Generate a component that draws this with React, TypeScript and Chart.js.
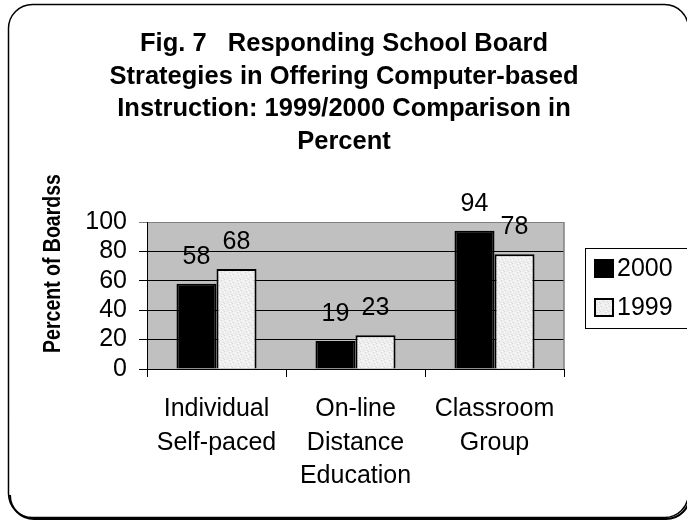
import React, { useEffect, useRef } from 'react';
import { Chart, registerables } from 'chart.js';

Chart.register(...registerables);

const categories = [
  ['Individual', 'Self-paced'],
  ['On-line', 'Distance', 'Education'],
  ['Classroom', 'Group'],
];
const seriesNames = ['2000', '1999'];
const values2000 = [58, 19, 94];
const values1999 = [68, 23, 78];
const yMin = 0;
const yMax = 100;
const yStep = 20;
const titleLines = [
  'Fig. 7   Responding School Board',
  'Strategies in Offering Computer-based',
  'Instruction: 1999/2000 Comparison in',
  'Percent',
];
const yAxisTitle = 'Percent of Boardss';

const FONT = "'Liberation Sans', Arial, Helvetica, sans-serif";

function makePattern(): CanvasPattern | string {
  const c = document.createElement('canvas');
  c.width = 8;
  c.height = 8;
  const g = c.getContext('2d');
  if (!g) return '#ececec';
  g.fillStyle = '#eeeeee';
  g.fillRect(0, 0, 8, 8);
  const dark = [[1, 2], [5, 0], [3, 5], [7, 6], [0, 7], [6, 3]];
  const light = [[2, 0], [4, 3], [0, 4], [6, 7], [3, 1], [7, 2]];
  g.fillStyle = '#d9d9d9';
  dark.forEach(([x, y]) => g.fillRect(x, y, 1, 1));
  g.fillStyle = '#fbfbfb';
  light.forEach(([x, y]) => g.fillRect(x, y, 1, 1));
  const p = g.createPattern(c, 'repeat');
  return p || '#ececec';
}

function roundRectPath(ctx: CanvasRenderingContext2D, x: number, y: number, w: number, h: number, r: number) {
  ctx.beginPath();
  ctx.moveTo(x + r, y);
  ctx.lineTo(x + w - r, y);
  ctx.arcTo(x + w, y, x + w, y + r, r);
  ctx.lineTo(x + w, y + h - r);
  ctx.arcTo(x + w, y + h, x + w - r, y + h, r);
  ctx.lineTo(x + r, y + h);
  ctx.arcTo(x, y + h, x, y + h - r, r);
  ctx.lineTo(x, y + r);
  ctx.arcTo(x, y, x + r, y, r);
  ctx.closePath();
}

export default function App() {
  const ref = useRef<HTMLCanvasElement | null>(null);

  useEffect(() => {
    const canvas = ref.current;
    if (!canvas) return;
    const pattern = makePattern();

    const decor = {
      id: 'decor',
      beforeDraw(chart: any) {
        const ctx = chart.ctx as CanvasRenderingContext2D;
        const a = chart.chartArea;
        ctx.save();
        ctx.fillStyle = '#ffffff';
        ctx.fillRect(0, 0, chart.width, chart.height);
        // outer rounded frame
        const fx = 8.5, fy = 4.5, fw = 680, fh = 513, fr = 24;
        ctx.strokeStyle = '#000';
        ctx.lineWidth = 1.5;
        roundRectPath(ctx, fx, fy, fw, fh, fr);
        ctx.stroke();
        // bottom shadow following the lower corners
        ctx.lineWidth = 2;
        ctx.beginPath();
        const sy = fy + fh + 1.5;
        ctx.moveTo(fx + 1.5, fy + fh - fr + 1.5);
        ctx.arcTo(fx + 1.5, sy, fx + fr + 1.5, sy, fr);
        ctx.lineTo(fx + fw - fr + 1.5, sy);
        ctx.arcTo(fx + fw + 1.5, sy, fx + fw + 1.5, sy - fr, fr);
        ctx.stroke();
        // plot background
        ctx.fillStyle = '#c0c0c0';
        ctx.fillRect(a.left, a.top, a.right - a.left, a.bottom - a.top);
        ctx.restore();
      },
      afterDraw(chart: any) {
        const ctx = chart.ctx as CanvasRenderingContext2D;
        const a = chart.chartArea;
        ctx.save();
        // right border of plot area
        ctx.strokeStyle = '#808080';
        ctx.lineWidth = 1.5;
        ctx.beginPath();
        ctx.moveTo(a.right, a.top);
        ctx.lineTo(a.right, a.bottom);
        ctx.stroke();

        // data labels
        ctx.fillStyle = '#000';
        ctx.font = `25px ${FONT}`;
        ctx.textAlign = 'center';
        ctx.textBaseline = 'middle';
        chart.data.datasets.forEach((ds: any, i: number) => {
          const meta = chart.getDatasetMeta(i);
          meta.data.forEach((bar: any, j: number) => {
            ctx.fillText(String(ds.data[j]), bar.x, bar.y - 27);
          });
        });

        // legend
        ctx.strokeStyle = '#000';
        ctx.lineWidth = 1;
        ctx.strokeRect(585.5, 248.5, 120, 80);
        const legendRows = [
          { name: seriesNames[0], fill: '#000', y: 259 },
          { name: seriesNames[1], fill: pattern, y: 298 },
        ];
        legendRows.forEach((r) => {
          ctx.fillStyle = r.fill as any;
          ctx.fillRect(594, r.y, 20, 19);
          ctx.lineWidth = 2;
          ctx.strokeStyle = '#000';
          ctx.strokeRect(595, r.y + 1, 18, 17);
          ctx.fillStyle = '#000';
          ctx.font = `25px ${FONT}`;
          ctx.textAlign = 'left';
          ctx.textBaseline = 'middle';
          ctx.fillText(r.name, 617, r.y + 10);
        });

        // title
        ctx.fillStyle = '#000';
        ctx.font = `bold 25.5px ${FONT}`;
        ctx.textAlign = 'center';
        ctx.textBaseline = 'alphabetic';
        titleLines.forEach((line, i) => {
          ctx.fillText(line, 344, 51 + i * 32.7);
        });

        // y axis title (glyphs slightly taller, as in the reference)
        ctx.save();
        ctx.translate(59.5, 263.5);
        ctx.rotate(-Math.PI / 2);
        ctx.scale(1, 1.18);
        ctx.font = `bold 19.5px ${FONT}`;
        ctx.textAlign = 'center';
        ctx.textBaseline = 'alphabetic';
        ctx.fillText(yAxisTitle, 0, 0);
        ctx.restore();

        ctx.restore();
      },
    };

    const chart = new Chart(canvas, {
      type: 'bar',
      data: {
        labels: categories as any,
        datasets: [
          {
            label: seriesNames[0],
            data: values2000,
            backgroundColor: '#000',
            borderColor: '#000',
            borderWidth: 2,
            categoryPercentage: 0.576,
            barPercentage: 1,
          },
          {
            label: seriesNames[1],
            data: values1999,
            backgroundColor: pattern as any,
            borderColor: '#000',
            borderWidth: 2,
            categoryPercentage: 0.576,
            barPercentage: 1,
          },
        ],
      },
      options: {
        animation: false,
        responsive: false,
        maintainAspectRatio: false,
        devicePixelRatio: 1,
        layout: { padding: { left: 0, top: 222, right: 123, bottom: 0 } },
        plugins: {
          legend: { display: false },
          title: { display: false },
          tooltip: { enabled: false },
        },
        scales: {
          x: {
            grid: {
              offset: true,
              drawOnChartArea: false,
              drawTicks: true,
              tickLength: 8,
              color: '#000',
              lineWidth: 1,
            },
            border: { display: true, color: '#000', width: 1 },
            ticks: {
              font: { family: FONT, size: 25, lineHeight: 1.35 },
              color: '#000',
              padding: 15,
              maxRotation: 0,
              autoSkip: false,
            },
            afterFit: (s: any) => {
              s.height = 153;
            },
          },
          y: {
            min: yMin,
            max: yMax,
            ticks: {
              stepSize: yStep,
              font: { family: FONT, size: 25 },
              color: '#000',
              padding: 12,
              autoSkip: false,
            },
            grid: {
              color: (c: any) => (c.tick && c.tick.value === yMax ? '#808080' : '#000'),
              tickLength: 8,
              lineWidth: 1,
            },
            border: { display: true, color: '#000', width: 1 },
            afterFit: (s: any) => {
              s.width = 147;
            },
          },
        },
      },
      plugins: [decor],
    });

    return () => {
      chart.destroy();
    };
  }, []);

  return (
    <div style={{ position: 'fixed', left: 0, top: 0, width: 687, height: 522, background: '#fff' }}>
      <canvas ref={ref} width={687} height={522} style={{ display: 'block', width: 687, height: 522 }} />
    </div>
  );
}
